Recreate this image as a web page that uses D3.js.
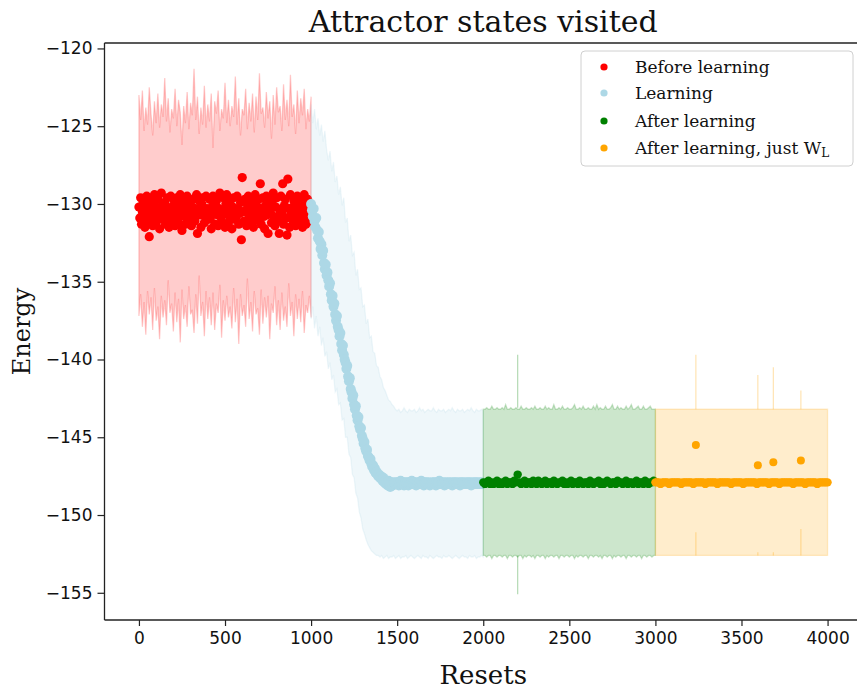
<!DOCTYPE html>
<html>
<head>
<meta charset="utf-8">
<script src="https://cdn.jsdelivr.net/npm/d3@7"></script>
<style>
  html, body { margin: 0; padding: 0; background: #fff; }
  svg { display: block; }
</style>
</head>
<body>
<svg id="chart" width="857" height="691"></svg>
<script>
// ---- Data ---------------------------------------------------------------
const xTicks = [0, 500, 1000, 1500, 2000, 2500, 3000, 3500, 4000];
const yTicks = [-155, -150, -145, -140, -135, -130, -125, -120];

const seriesNames = ["Before learning", "Learning", "After learning", "After learning, just W"];
const seriesColors = ["#ff0000", "#add8e6", "#008000", "#ffa500"];

// Before learning: resets 0..995, every 5
const beforeStart = 0, beforeStep = 5;
const beforeEnergy = [
  -130.2,-130.9,-129.6,-131.3,-130.5,-129.9,-130.8,-131.5,-130.1,-129.5,-130.7,-131.1,-132.1,-130.3,-129.8,-130.6,-131.4,-130.0,-129.4,-130.9,
  -131.2,-130.4,-129.7,-130.8,-131.6,-130.2,-129.3,-130.5,-131.0,-130.1,-129.9,-131.3,-130.6,-129.6,-130.4,-131.5,-130.8,-129.5,-130.2,-131.1,
  -130.7,-129.8,-131.4,-130.3,-129.6,-130.9,-131.2,-130.0,-129.4,-130.6,-131.7,-130.4,-129.9,-130.8,-131.3,-130.1,-129.5,-130.5,-131.0,-129.8,
  -130.6,-131.4,-130.2,-129.7,-130.9,-131.1,-130.3,-129.4,-131.9,-130.5,-129.8,-130.7,-131.5,-130.0,-129.6,-130.4,-131.2,-130.8,-129.5,-130.3,
  -131.0,-130.5,-129.7,-130.9,-131.6,-130.2,-129.5,-130.6,-131.3,-130.1,-129.8,-130.7,-131.4,-130.3,-129.3,-130.8,-131.1,-130.4,-129.6,-130.5,
  -131.5,-130.0,-129.4,-130.7,-131.2,-130.5,-129.8,-130.9,-131.6,-130.2,-129.6,-130.4,-131.0,-130.8,-129.5,-130.3,-131.3,-130.6,-129.9,-132.3,
  -128.3,-130.5,-131.1,-129.7,-130.4,-131.4,-130.0,-129.5,-130.8,-131.2,-130.3,-129.8,-130.6,-131.5,-130.1,-129.4,-130.9,-131.0,-130.2,-129.7,
  -130.5,-128.7,-131.3,-130.4,-129.6,-130.8,-131.6,-130.1,-129.5,-130.7,-131.9,-130.3,-129.8,-130.6,-131.2,-130.0,-129.3,-130.9,-131.4,-130.2,
  -129.6,-130.8,-131.1,-131.9,-130.4,-129.5,-130.6,-128.7,-131.3,-130.1,-129.7,-130.9,-132.0,-128.4,-130.3,-131.5,-129.4,-130.7,-131.0,-130.2,
  -129.8,-130.6,-131.4,-130.0,-129.5,-130.8,-131.2,-130.3,-129.6,-130.5,-131.5,-130.1,-129.4,-130.9,-131.3,-130.4,-129.7,-130.6,-131.1,-130.2
];
// Before learning spread band: resets 0..1000, every 10
const beforeBandStart = 0, beforeBandStep = 10;
const beforeUpper = [
  -123.0,-124.6,-122.7,-125.3,-123.8,-124.9,-122.5,-124.2,-125.6,-123.4,
  -124.8,-122.9,-125.1,-123.6,-124.4,-121.9,-124.7,-123.2,-125.4,-123.9,
  -124.5,-122.6,-125.0,-123.3,-124.1,-126.2,-123.7,-124.8,-122.8,-125.2,
  -123.5,-124.3,-121.3,-124.6,-123.1,-125.5,-123.8,-124.9,-122.4,-125.1,
  -123.6,-124.7,-122.9,-126.4,-123.4,-124.2,-122.7,-125.3,-123.9,-124.5,
  -122.2,-124.8,-123.3,-125.0,-123.7,-124.4,-121.8,-124.9,-123.2,-125.6,
  -123.9,-124.3,-122.6,-125.2,-123.5,-124.7,-122.9,-125.4,-123.1,-124.6,
  -121.6,-124.2,-123.8,-125.1,-122.8,-124.5,-123.4,-125.8,-123.0,-124.9,
  -122.5,-124.1,-123.7,-125.3,-122.3,-124.6,-123.3,-125.0,-121.7,-124.4,
  -123.6,-125.5,-122.7,-124.8,-123.2,-124.3,-122.6,-125.2,-123.9,-124.7,
  -123.1
];
const beforeLower = [
  -137.2,-135.8,-137.9,-136.3,-138.4,-135.6,-137.1,-136.0,-138.1,-135.4,
  -137.5,-136.6,-138.7,-135.9,-137.3,-136.2,-137.8,-134.9,-137.0,-136.4,
  -138.2,-135.7,-137.6,-136.1,-138.9,-135.5,-137.4,-136.5,-137.9,-135.3,
  -137.1,-136.8,-138.3,-135.8,-137.7,-134.6,-137.2,-136.3,-138.5,-135.6,
  -137.4,-136.0,-137.8,-135.7,-138.1,-136.4,-137.0,-135.2,-138.6,-136.2,
  -137.5,-135.9,-137.3,-136.6,-138.0,-135.4,-137.6,-136.1,-139.0,-135.8,
  -137.2,-136.5,-137.9,-134.8,-137.4,-136.3,-138.2,-135.6,-137.1,-136.7,
  -138.4,-135.5,-137.7,-136.0,-137.3,-135.9,-138.7,-136.4,-137.0,-135.3,
  -137.8,-136.2,-138.1,-135.7,-137.5,-136.6,-137.9,-135.1,-137.2,-136.3,
  -138.5,-135.8,-137.4,-136.1,-137.6,-135.6,-138.3,-136.5,-137.0,-135.9,
  -137.3
];

// Learning: resets 1000..1995, every 5
const learnStart = 1000, learnStep = 5;
const learnEnergy = [
  -130.0,-130.4,-130.8,-130.3,-131.1,-131.5,-130.9,-131.7,-132.2,-131.8,-132.4,-132.9,-132.6,-133.3,-133.0,-133.8,-134.2,-133.9,-134.6,-134.4,
  -134.9,-135.3,-135.1,-135.8,-136.2,-135.9,-136.6,-136.4,-137.1,-137.5,-137.2,-137.9,-138.1,-138.5,-138.3,-139.0,-139.4,-139.1,-139.7,-140.0,
  -140.2,-140.6,-140.4,-141.1,-141.4,-141.2,-141.9,-142.1,-142.5,-142.3,-142.9,-143.2,-143.0,-143.6,-143.9,-143.7,-144.3,-144.5,-144.4,-144.9,
  -145.1,-145.4,-145.3,-145.7,-145.9,-145.8,-146.2,-146.3,-146.5,-146.4,-146.7,-146.9,-146.8,-147.1,-147.0,-147.3,-147.2,-147.4,-147.5,-147.4,
  -147.6,-147.5,-147.7,-147.8,-147.6,-147.9,-147.8,-148.0,-147.9,-148.1,-147.8,-148.0,-148.2,-147.9,-148.0,-148.1,-147.9,-148.0,-148.0,-147.9,
  -148.0,-147.9,-148.1,-148.0,-147.8,-148.0,-148.0,-147.9,-148.1,-148.0,-147.9,-148.0,-147.9,-148.1,-148.0,-147.9,-148.0,-147.8,-148.0,-148.0,
  -147.9,-148.0,-148.1,-147.9,-148.0,-148.0,-147.9,-148.0,-147.8,-148.0,-148.0,-148.1,-147.9,-148.0,-147.9,-148.0,-148.0,-147.9,-148.1,-148.0,
  -148.0,-147.9,-148.0,-147.9,-148.0,-148.1,-147.9,-148.0,-148.0,-147.8,-148.0,-147.9,-148.0,-148.0,-147.9,-148.1,-148.0,-147.9,-148.0,-148.0,
  -147.9,-148.0,-148.0,-147.9,-148.1,-148.0,-147.9,-148.0,-147.9,-148.0,-148.0,-147.9,-148.0,-148.1,-147.9,-148.0,-147.9,-148.0,-148.0,-147.9,
  -148.0,-148.0,-147.9,-148.0,-147.9,-148.0,-148.1,-147.9,-148.0,-148.0,-147.9,-148.0,-147.9,-148.0,-148.0,-147.9,-148.0,-148.0,-147.9,-148.0
];
// Learning spread band: resets 1000..2000, every 10
const learnBandStart = 1000, learnBandStep = 10;
const learnUpper = [
  -123.6,-124.8,-123.9,-125.2,-124.5,-125.6,-124.9,-126.0,-125.3,-126.5,
  -127.2,-126.6,-127.9,-127.3,-128.6,-128.2,-129.4,-128.9,-130.1,-129.6,
  -131.2,-130.9,-132.4,-132.0,-133.3,-133.1,-134.6,-134.2,-135.5,-135.4,
  -136.6,-136.5,-137.7,-137.4,-138.6,-138.5,-139.5,-139.6,-140.4,-140.5,
  -141.1,-141.3,-141.8,-142.0,-142.3,-142.6,-142.7,-142.9,-143.0,-143.2,
  -143.3,-143.2,-143.4,-143.3,-143.1,-143.3,-143.4,-143.2,-143.3,-143.3,
  -143.2,-143.4,-143.3,-143.1,-143.3,-143.2,-143.4,-143.3,-143.2,-143.3,
  -143.3,-143.1,-143.3,-143.4,-143.2,-143.3,-143.3,-143.2,-143.4,-143.3,
  -143.2,-143.3,-143.1,-143.3,-143.4,-143.2,-143.3,-143.3,-143.2,-143.4,
  -143.3,-143.2,-143.3,-143.1,-143.3,-143.4,-143.2,-143.3,-143.3,-143.2,
  -143.3
];
const learnLower = [
  -137.4,-136.6,-138.0,-137.2,-138.5,-137.9,-139.1,-138.6,-139.8,-139.5,
  -140.6,-140.2,-141.3,-141.0,-142.1,-141.9,-142.9,-142.8,-143.9,-143.8,
  -145.0,-145.0,-146.1,-146.3,-147.4,-147.6,-148.6,-148.9,-149.8,-150.2,
  -150.9,-151.2,-151.6,-151.9,-152.1,-152.3,-152.4,-152.5,-152.6,-152.6,
  -152.7,-152.6,-152.8,-152.7,-152.6,-152.8,-152.7,-152.7,-152.6,-152.8,
  -152.7,-152.6,-152.8,-152.7,-152.7,-152.6,-152.8,-152.7,-152.6,-152.7,
  -152.8,-152.7,-152.6,-152.7,-152.8,-152.6,-152.7,-152.7,-152.8,-152.6,
  -152.7,-152.8,-152.7,-152.6,-152.7,-152.7,-152.8,-152.6,-152.7,-152.7,
  -152.6,-152.7,-152.8,-152.7,-152.6,-152.7,-152.8,-152.7,-152.6,-152.7,
  -152.7,-152.8,-152.6,-152.7,-152.7,-152.6,-152.8,-152.7,-152.7,-152.6,
  -152.7
];

// After learning: resets 2000..2990, every 10
const afterStart = 2000, afterStep = 10;
const afterEnergy = [
  -147.9,-148.0,-147.9,-147.8,-148.0,-147.9,-148.0,-147.9,-147.8,-148.0,
  -147.9,-148.0,-147.9,-147.8,-148.0,-147.9,-147.9,-148.0,-147.8,-147.9,
  -147.4,-147.9,-148.0,-147.9,-147.8,-148.0,-147.9,-147.9,-148.0,-147.8,
  -147.9,-148.0,-147.8,-147.9,-148.0,-147.9,-147.8,-148.0,-147.9,-147.9,
  -148.0,-147.8,-147.9,-148.0,-147.9,-147.9,-147.8,-148.0,-147.9,-148.0,
  -147.9,-147.8,-148.0,-147.9,-147.9,-148.0,-147.8,-147.9,-148.0,-147.9,
  -147.9,-148.0,-147.8,-147.9,-148.0,-147.9,-147.9,-147.8,-148.0,-147.9,
  -148.0,-147.9,-147.8,-147.9,-148.0,-147.9,-147.9,-148.0,-147.8,-147.9,
  -147.9,-148.0,-147.9,-147.8,-148.0,-147.9,-147.9,-148.0,-147.9,-147.8,
  -148.0,-147.9,-147.9,-148.0,-147.8,-147.9,-148.0,-147.9,-147.9,-147.8
];
// After learning spread band: resets 2000..3000, every 10
const afterUpper = [
  -143.2,-143.2,-143.1,-143.2,-143.2,-143.0,-143.2,-143.2,-143.1,-143.2,
  -143.2,-143.1,-143.2,-142.9,-143.2,-143.2,-143.1,-143.2,-143.2,-143.1,
  -143.2,-143.2,-143.0,-143.2,-143.2,-143.1,-143.2,-143.2,-143.1,-143.2,
  -143.0,-143.2,-143.2,-143.1,-143.2,-143.2,-143.0,-143.2,-143.1,-143.2,
  -143.2,-142.9,-143.2,-143.2,-143.1,-143.2,-143.0,-143.2,-143.2,-143.1,
  -143.2,-143.2,-143.1,-142.9,-143.2,-143.2,-143.1,-143.2,-143.0,-143.2,
  -143.2,-143.1,-143.2,-143.2,-143.0,-143.2,-142.9,-143.2,-143.1,-143.2,
  -143.2,-143.0,-143.2,-143.2,-143.1,-142.9,-143.2,-143.2,-143.0,-143.2,
  -143.1,-143.2,-143.2,-143.0,-143.2,-143.1,-142.9,-143.2,-143.2,-143.1,
  -143.0,-143.2,-143.2,-143.0,-143.2,-143.2,-143.1,-143.0,-143.2,-143.2,
  -143.2
];
const afterLower = [
  -152.6,-152.6,-152.7,-152.6,-152.6,-152.8,-152.6,-152.6,-152.7,-152.6,
  -152.6,-152.7,-152.6,-152.6,-152.8,-152.6,-152.6,-152.7,-152.6,-152.6,
  -152.7,-152.6,-152.6,-152.8,-152.6,-152.7,-152.6,-152.6,-152.7,-152.6,
  -152.8,-152.6,-152.6,-152.7,-152.6,-152.6,-152.8,-152.6,-152.7,-152.6,
  -152.6,-152.7,-152.6,-152.6,-152.8,-152.6,-152.6,-152.7,-152.6,-152.6,
  -152.7,-152.6,-152.6,-152.8,-152.6,-152.7,-152.6,-152.6,-152.7,-152.6,
  -152.6,-152.8,-152.6,-152.6,-152.7,-152.6,-152.6,-152.7,-152.6,-152.8,
  -152.6,-152.6,-152.7,-152.6,-152.6,-152.8,-152.6,-152.7,-152.6,-152.6,
  -152.7,-152.6,-152.6,-152.8,-152.6,-152.6,-152.7,-152.6,-152.6,-152.7,
  -152.6,-152.6,-152.8,-152.6,-152.6,-152.7,-152.6,-152.6,-152.7,-152.6,
  -152.6
];
// Isolated excursions of the after-learning spread
const afterSpikeResets = [2200];
const afterSpikeUpper = [-139.7];
const afterSpikeLower = [-155.1];

// After learning, just W_L: resets 3000..4000, every 10
const wlStart = 3000, wlStep = 10;
const wlEnergy = [
  -147.9,-147.9,-147.9,-148.0,-147.9,-147.9,-147.9,-147.9,-148.0,-147.9,
  -147.9,-147.9,-147.9,-147.9,-147.9,-148.0,-147.9,-147.9,-147.9,-147.9,
  -147.9,-147.9,-148.0,-147.9,-147.9,-147.9,-147.9,-147.9,-147.9,-148.0,
  -147.9,-147.9,-147.9,-147.9,-147.9,-147.9,-148.0,-147.9,-147.9,-147.9,
  -147.9,-147.9,-147.9,-147.9,-148.0,-147.9,-147.9,-147.9,-147.9,-147.9,
  -147.9,-148.0,-147.9,-147.9,-147.9,-147.9,-147.9,-147.9,-147.9,-148.0,
  -147.9,-147.9,-147.9,-147.9,-147.9,-147.9,-148.0,-147.9,-147.9,-147.9,
  -147.9,-147.9,-148.0,-147.9,-147.9,-147.9,-147.9,-147.9,-147.9,-147.9,
  -148.0,-147.9,-147.9,-147.9,-147.9,-147.9,-147.9,-148.0,-147.9,-147.9,
  -147.9,-147.9,-147.9,-147.9,-148.0,-147.9,-147.9,-147.9,-147.9,-147.9,
  -147.9
];
const wlOutlierResets = [3235, 3595, 3685, 3845];
const wlOutlierEnergy = [-145.5, -146.8, -146.6, -146.5];
const wlBandResets = [3000, 4000];
const wlBandUpper = [-143.2, -143.2];
const wlBandLower = [-152.6, -152.6];
const wlSpikeResets = [3235, 3595, 3685, 3845];
const wlSpikeUpper = [-139.7, -141.0, -140.5, -142.0];
const wlSpikeLower = [-151.1, -152.4, -152.4, -150.9];

// ---- Helpers --------------------------------------------------------------
const toPoints = (start, step, vals) => vals.map((v, i) => ({ x: start + i * step, y: v }));
const toBand = (start, step, hi, lo) => hi.map((v, i) => ({ x: start + i * step, hi: v, lo: lo[i] }));

// ---- Layout ---------------------------------------------------------------
const svg = d3.select("#chart");
const plot = { left: 104.5, right: 862, top: 43, bottom: 620 };

const x = d3.scaleLinear().domain([-200, 4200]).range([plot.left, plot.right]);
const y = d3.scaleLinear().domain([-156.75, -119.65]).range([plot.bottom, plot.top]);

svg.append("defs").append("clipPath").attr("id", "plotClip")
  .append("rect")
  .attr("x", plot.left).attr("y", plot.top)
  .attr("width", plot.right - plot.left).attr("height", plot.bottom - plot.top);

const g = svg.append("g").attr("clip-path", "url(#plotClip)");

const area = d3.area().x(d => x(d.x)).y0(d => y(d.lo)).y1(d => y(d.hi));

function drawBand(data, color) {
  g.append("path")
    .datum(data)
    .attr("d", area)
    .attr("fill", color).attr("fill-opacity", 0.2)
    .attr("stroke", color).attr("stroke-opacity", 0.2)
    .attr("stroke-width", 1.3)
    .attr("stroke-linejoin", "miter");
}

function drawSpikes(resets, hi, lo, baseHi, baseLo, color) {
  resets.forEach((r, i) => {
    g.append("line")
      .attr("x1", x(r)).attr("x2", x(r))
      .attr("y1", y(hi[i])).attr("y2", y(baseHi))
      .attr("stroke", color).attr("stroke-opacity", 0.3).attr("stroke-width", 1.2);
    g.append("line")
      .attr("x1", x(r)).attr("x2", x(r))
      .attr("y1", y(lo[i])).attr("y2", y(baseLo))
      .attr("stroke", color).attr("stroke-opacity", 0.3).attr("stroke-width", 1.2);
  });
}

function drawDots(points, color, r) {
  g.append("g").selectAll("circle")
    .data(points)
    .join("circle")
    .attr("cx", d => x(d.x)).attr("cy", d => y(d.y))
    .attr("r", r)
    .attr("fill", color);
}

// Before learning
drawBand(toBand(beforeBandStart, beforeBandStep, beforeUpper, beforeLower), seriesColors[0]);
drawDots(toPoints(beforeStart, beforeStep, beforeEnergy), seriesColors[0], 4.6);

// Learning
drawBand(toBand(learnBandStart, learnBandStep, learnUpper, learnLower), seriesColors[1]);
drawDots(toPoints(learnStart, learnStep, learnEnergy), seriesColors[1], 5);

// After learning
drawBand(toBand(afterStart, afterStep, afterUpper, afterLower), seriesColors[2]);
drawSpikes(afterSpikeResets, afterSpikeUpper, afterSpikeLower, -143.1, -152.6, seriesColors[2]);
drawDots(toPoints(afterStart, afterStep, afterEnergy), seriesColors[2], 4.2);

// After learning, just W_L
drawBand(wlBandResets.map((r, i) => ({ x: r, hi: wlBandUpper[i], lo: wlBandLower[i] })), seriesColors[3]);
drawSpikes(wlSpikeResets, wlSpikeUpper, wlSpikeLower, wlBandUpper[0], wlBandLower[0], seriesColors[3]);
drawDots(toPoints(wlStart, wlStep, wlEnergy), seriesColors[3], 4.2);
drawDots(wlOutlierResets.map((r, i) => ({ x: r, y: wlOutlierEnergy[i] })), seriesColors[3], 4);

// ---- Axes -----------------------------------------------------------------
const tickFont = "'DejaVu Sans', sans-serif";
const serifFont = "'DejaVu Serif', serif";
const fmt = d3.format("d");

const xAxis = svg.append("g")
  .attr("transform", `translate(0,${plot.bottom})`)
  .call(d3.axisBottom(x).tickValues(xTicks).tickSize(6).tickPadding(6).tickFormat(fmt));
const yAxis = svg.append("g")
  .attr("transform", `translate(${plot.left},0)`)
  .call(d3.axisLeft(y).tickValues(yTicks).tickSize(7).tickPadding(5).tickFormat(fmt));

[xAxis, yAxis].forEach(ax => {
  ax.select(".domain").remove();
  ax.selectAll(".tick line").attr("stroke", "#222").attr("stroke-width", 1.2);
  ax.selectAll(".tick text")
    .attr("fill", "#111")
    .style("font-family", tickFont)
    .style("font-size", "17px");
});

// Spines: left, bottom and top (the right one lies past the edge)
const spine = svg.append("g").attr("stroke", "#222").attr("stroke-width", 1.3).attr("fill", "none");
spine.append("line").attr("x1", plot.left).attr("x2", plot.left).attr("y1", plot.top).attr("y2", plot.bottom);
spine.append("line").attr("x1", plot.left).attr("x2", plot.right).attr("y1", plot.bottom).attr("y2", plot.bottom);
spine.append("line").attr("x1", plot.left).attr("x2", plot.right).attr("y1", plot.top).attr("y2", plot.top);

// Titles
svg.append("text")
  .attr("x", (plot.left + plot.right) / 2).attr("y", 32)
  .attr("text-anchor", "middle")
  .style("font-family", serifFont).style("font-size", "30px").attr("fill", "#111")
  .text("Attractor states visited");

svg.append("text")
  .attr("x", (plot.left + plot.right) / 2).attr("y", 684)
  .attr("text-anchor", "middle")
  .style("font-family", serifFont).style("font-size", "26px").attr("fill", "#111")
  .text("Resets");

svg.append("text")
  .attr("transform", `translate(30,${(plot.top + plot.bottom) / 2}) rotate(-90)`)
  .attr("text-anchor", "middle")
  .style("font-family", serifFont).style("font-size", "24px").attr("fill", "#111")
  .text("Energy");

// ---- Legend ---------------------------------------------------------------
const legend = svg.append("g").attr("transform", "translate(581,51)");
legend.append("rect")
  .attr("width", 272).attr("height", 115)
  .attr("rx", 4).attr("ry", 4)
  .attr("fill", "#fff").attr("fill-opacity", 0.8)
  .attr("stroke", "#d0d0d0").attr("stroke-width", 1);

const rowY = [16, 42, 70, 97];
seriesNames.forEach((name, i) => {
  legend.append("circle")
    .attr("cx", 23).attr("cy", rowY[i]).attr("r", 3.6)
    .attr("fill", seriesColors[i]);
  const t = legend.append("text")
    .attr("x", 54).attr("y", rowY[i]).attr("dy", "0.35em")
    .style("font-family", serifFont).style("font-size", "17px").attr("fill", "#111")
    .text(name);
  if (i === 3) {
    t.append("tspan").attr("dy", "0.25em").style("font-size", "12px").text("L");
  }
});
</script>
</body>
</html>
